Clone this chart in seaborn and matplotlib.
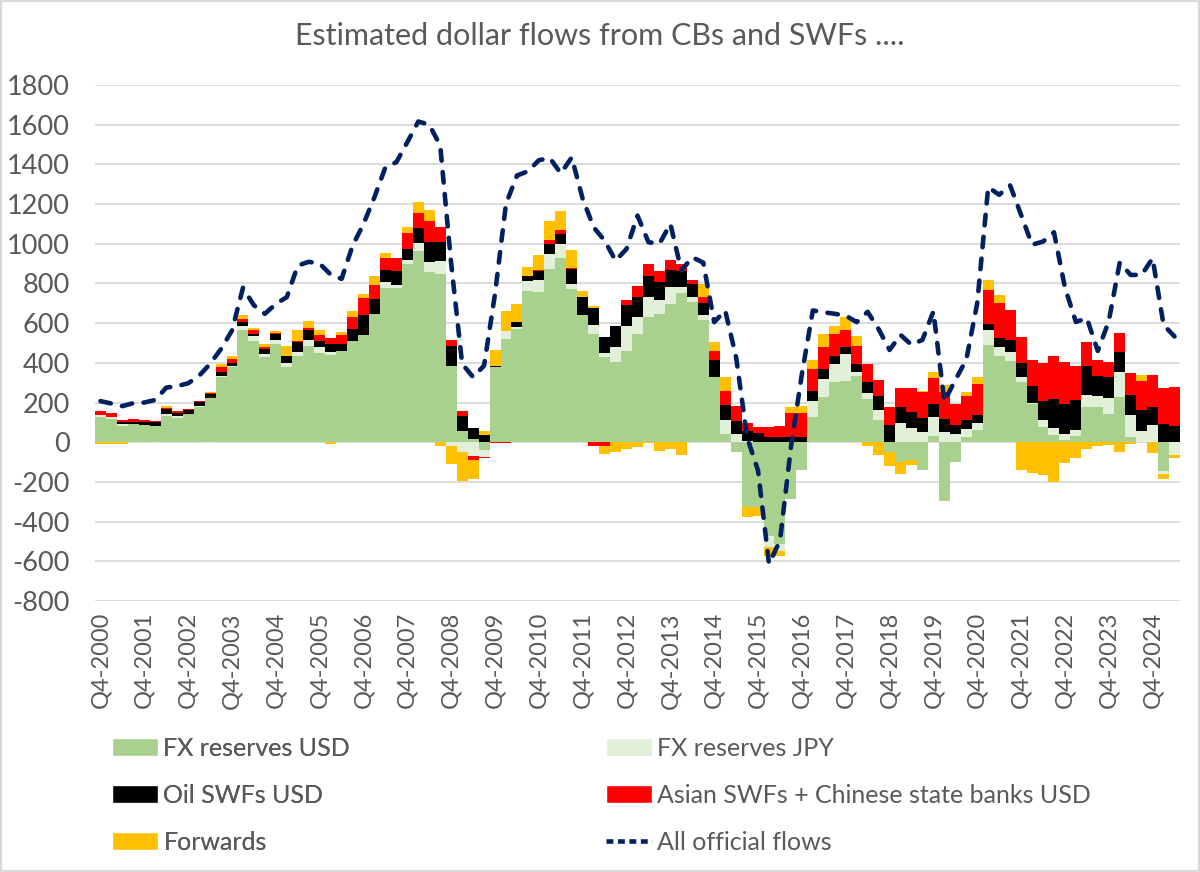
import numpy as np
import matplotlib
matplotlib.use("Agg")
import matplotlib.pyplot as plt
from matplotlib.patches import Patch, Rectangle
from matplotlib.lines import Line2D
import seaborn as sns

# quarterly categories, Q4-2000 .. Q2-2025
quarters = []
for yr in range(2000, 2026):
    for q in (1, 2, 3, 4):
        if (yr == 2000 and q < 4) or (yr == 2025 and q > 2):
            continue
        quarters.append(f"Q{q}-{yr}")

fx_usd = [126, 118, 84, 92, 89, 84, 134, 123, 143, 180, 222, 328, 378, 566, 509, 428,
          496, 378, 437, 487, 449, 442, 462, 512, 541, 647, 776, 776, 899, 966, 857, 848,
          383, 59, 17, -40, 378, 521, 571, 761, 756, 874, 927, 773, 642, 546, 428, 403,
          462, 546, 633, 647, 697, 751, 706, 617, 328, 42, -50, -328, -328, -470, -512, -286,
          -139, 126, 227, 302, 311, 336, 218, 114, -50, -99, -91, -141, 30, -296, -99, 27,
          60, 491, 432, 407, 306, 192, 79, 37, 13, 30, 179, 176, 143, 226, 27, 0,
          0, -143, 0]
fx_jpy = [12, 11, 8, 0, 0, -3, 9, 11, 0, 5, -3, 8, 5, 22, 24, 17,
          20, 22, 20, 30, 33, 12, 0, 0, 0, 0, 30, 17, 17, 37, 50, 63,
          -17, -50, -67, -34, 0, 38, 12, 49, 59, 75, 73, 25, 0, 47, 21, 79,
          126, 84, 101, 70, 84, 30, 28, 25, 0, 71, 42, 5, 0, -59, -34, 0,
          0, 84, 92, 93, 134, 17, 29, 47, 0, 99, 71, 50, 98, 52, 40, 42,
          39, 72, 50, 50, 25, 5, 34, 34, 30, 30, 60, 58, 79, 129, 111, 56,
          85, -16, -65]
oil_swf = [0, 0, 9, 9, 15, 17, 25, 14, 17, 17, 22, 17, 15, 17, 13, 25,
           30, 32, 47, 46, 30, 42, 34, 59, 101, 76, 64, 69, 58, 76, 101, 97,
           104, 75, 55, 34, 8, 0, 22, 27, 47, 51, 50, 76, 89, 84, 82, 106,
           101, 101, 103, 89, 89, 84, 61, 59, 84, 75, 67, 54, 45, 25, 25, 25,
           25, 50, 51, 42, 34, 42, 55, 71, 85, 81, 80, 72, 67, 67, 45, 45,
           37, 33, 42, 59, 67, 84, 97, 146, 150, 152, 144, 100, 107, 98, 99, 107,
           94, 90, 80]
asian_swf = [17, 19, 12, 17, 9, 5, 5, 7, 5, 8, 3, 25, 22, 17, 17, 12,
             3, 5, 8, 12, 29, 30, 42, 59, 84, 67, 59, 65, 79, 75, 109, 76,
             29, 21, -22, -5, -5, -5, 0, 0, 7, 21, 17, 3, 0, -17, -17, 0,
             28, 54, 62, 59, 49, 31, 22, 30, 50, 72, 76, 37, 31, 51, 59, 121,
             121, 110, 109, 109, 89, 92, 93, 80, 92, 92, 121, 131, 128, 134, 109, 118,
             158, 172, 180, 151, 130, 134, 188, 218, 210, 171, 120, 78, 74, 96, 113, 146,
             160, 181, 199]
forwards = [-8, -8, -8, 0, 0, 0, 8, 0, 0, 0, 8, 17, 17, 21, 13, 14,
            9, 50, 51, 38, 25, -10, 16, 29, 22, 50, 24, 0, 34, 56, 51, -20,
            -92, -143, -96, 25, 79, 101, 89, 48, 76, 96, 97, 92, 33, 9, -42, -50,
            -34, -25, -5, -42, -34, -64, 0, 67, 42, 68, 0, -50, -42, -42, -25, 30,
            35, 45, 64, 42, 62, 46, -18, -65, -72, -59, -25, 6, 33, 34, 0, 22,
            35, 50, 39, 0, -138, -157, -166, -199, -103, -81, -32, -20, -15, -48, -10, 30,
            -53, -25, -13]
all_flows = [207, 195, 182, 197, 200, 213, 275, 283, 297, 335, 395, 470, 563, 778, 690, 647,
             697, 731, 890, 909, 900, 845, 823, 990, 1100, 1235, 1386, 1411, 1512, 1616, 1600, 1495,
             899, 395, 328, 386, 748, 1201, 1344, 1365, 1421, 1432, 1355, 1435, 1226, 1083, 1016, 915,
             974, 1142, 1008, 1000, 1100, 865, 932, 905, 605, 664, 428, 25, -143, -613, -496, -25,
             344, 664, 655, 647, 638, 605, 657, 570, 465, 541, 491, 516, 659, 205, 314, 415,
             701, 1285, 1247, 1294, 1146, 995, 1011, 1058, 780, 606, 625, 460, 610, 905, 843, 843,
             927, 591, 533]

series = [
    ("FX reserves USD", fx_usd, "#A9D18E"),
    ("FX reserves JPY", fx_jpy, "#E2F0D9"),
    ("Oil SWFs USD", oil_swf, "#000000"),
    ("Asian SWFs + Chinese state banks USD", asian_swf, "#FF0000"),
    ("Forwards", forwards, "#FFC000"),
]
line_color = "#002060"
text_color = "#595959"

sns.set_theme(style="white")
plt.rcParams["font.family"] = ["Lato", "DejaVu Sans"]
plt.rcParams["axes.unicode_minus"] = False

fig = plt.figure(figsize=(12, 8.72), dpi=100)
ax = fig.add_axes([95 / 1200, 1 - 601 / 872, 1085 / 1200, 516 / 872])

x = np.arange(len(quarters))
pos_base = np.zeros(len(x))
neg_base = np.zeros(len(x))
for name, vals, col in series:
    v = np.array(vals, dtype=float)
    bottom = np.where(v >= 0, pos_base, neg_base)
    ax.bar(x, v, bottom=bottom, width=1.0, color=col, linewidth=0, zorder=2)
    pos_base += np.where(v >= 0, v, 0)
    neg_base += np.where(v < 0, v, 0)

sns.lineplot(x=x, y=all_flows, ax=ax, color=line_color, lw=3.3,
             linestyle=(0, (2.3, 2.5)), legend=False, zorder=3)
ax.lines[-1].set_dash_capstyle("round")

ax.set_xlim(-0.5, len(x) - 0.5)
ax.set_ylim(-800, 1800)
ax.set_yticks(range(-800, 1801, 200))
ax.yaxis.grid(True, color="#D9D9D9", lw=1.3)
ax.set_axisbelow(True)
for s in ax.spines.values():
    s.set_visible(False)
ax.set_xticks(x[::4])
ax.set_xticklabels(quarters[::4], rotation=90)
ax.tick_params(axis="x", length=0, pad=8, labelsize=17, labelcolor=text_color)
ax.tick_params(axis="y", length=0, pad=18, labelsize=19.5, labelcolor=text_color)
ax.set_xlabel("")
ax.set_ylabel("")

fig.text(0.5, 1 - 36 / 872, "Estimated dollar flows from CBs and SWFs ....",
         ha="center", va="center", fontsize=22, color=text_color)

handles = [Patch(facecolor=c, label=n) for n, _, c in series]
handles.append(Line2D([], [], color=line_color, lw=3.3, linestyle=(0, (1.5, 1.0)),
                      label="All official flows"))
leg_kw = dict(frameon=False, fontsize=18, handlelength=1.85, handleheight=0.75,
              handletextpad=0.2, labelspacing=0.95, borderpad=0, borderaxespad=0,
              labelcolor=text_color, loc="upper left")
leg1 = fig.legend(handles=[handles[0], handles[2], handles[4]],
                  bbox_to_anchor=(112 / 1200, 1 - 737 / 872), **leg_kw)
fig.add_artist(leg1)
fig.legend(handles=[handles[1], handles[3], handles[5]],
           bbox_to_anchor=(606 / 1200, 1 - 737 / 872), **leg_kw)

fig.add_artist(Rectangle((0.001, 0.001), 0.998, 0.998, transform=fig.transFigure,
                         fill=False, edgecolor="#D9D9D9", lw=1.5))

fig.savefig("out.png", dpi=100)
